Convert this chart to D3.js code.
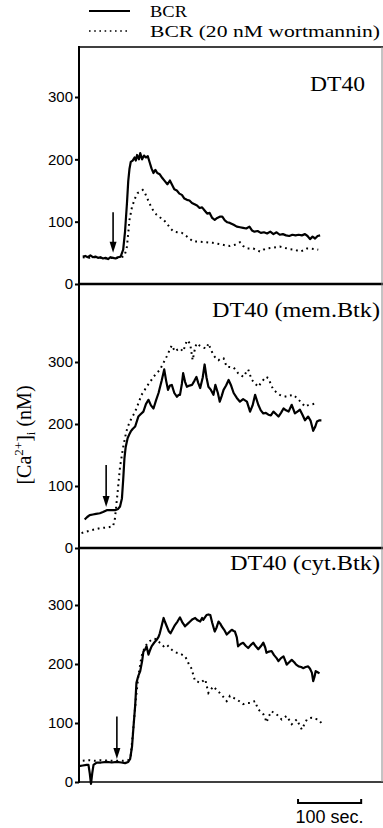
<!DOCTYPE html>
<html>
<head>
<meta charset="utf-8">
<script src="https://cdn.jsdelivr.net/npm/d3@7"></script>
<style>
  body { margin: 0; background: #fff; }
  svg { display: block; }
</style>
</head>
<body>
<div id="chart"></div>
<script>
// ---- data: [time (s), [Ca2+]i (nM)] ----
const legendLabels = ['BCR', 'BCR (20 nM wortmannin)'];
const panelNames = ['DT40', 'DT40 (mem.Btk)', 'DT40 (cyt.Btk)'];
const yTicks = [0, 100, 200, 300];
const stimulusTimes = [54, 43, 60];
const arrowTops = [115, 134, 111];
const arrowTips = [50, 66, 39];
const scaleBarSeconds = 100;

const bcrDT40 = [[6,44],[10,45],[14,43],[18,46],[22,43],[26,44],[30,42],[34,43],[38,41],[42,42],[46,40],[50,43],[54,42],[58,41],[62,43],[66,44],[70,55],[73,85],[76,130],[78,165],[80,185],[82,196],[85,198],[88,203],[90,198],[92,207],[95,200],[97,210],[100,200],[103,206],[106,203],[109,205],[112,195],[115,185],[118,178],[121,183],[124,178],[128,176],[132,170],[136,165],[140,160],[144,166],[147,160],[151,152],[155,150],[159,145],[163,143],[167,137],[171,135],[175,134],[179,130],[183,128],[187,126],[191,122],[195,123],[199,118],[203,113],[207,114],[211,106],[215,103],[219,106],[223,108],[227,108],[231,102],[235,99],[239,98],[245,95],[250,92],[255,91],[260,90],[265,89],[270,92],[274,86],[278,84],[283,85],[288,82],[293,83],[298,81],[303,84],[308,80],[313,83],[318,79],[323,80],[328,78],[333,77],[338,79],[343,78],[348,79],[353,78],[358,80],[362,77],[366,72],[370,76],[374,73],[378,77],[382,78]];
const wortDT40 = [[6,43],[15,42],[25,43],[35,42],[45,41],[55,42],[65,42],[72,45],[76,60],[80,103],[84,124],[89,138],[93,146],[97,148],[101,151],[104,147],[107,140],[111,131],[115,122],[119,116],[123,111],[128,107],[134,103],[140,96],[145,89],[150,84],[156,83],[163,82],[170,77],[176,72],[181,68],[190,68],[202,67],[212,66],[223,64],[232,62],[239,61],[247,63],[255,67],[260,61],[266,57],[276,57],[282,54],[287,52],[292,55],[297,57],[305,58],[312,59],[318,60],[326,58],[334,56],[342,55],[350,52],[356,54],[361,57],[367,57],[374,56],[379,55]];

const bcrMem = [[9,46],[13,50],[17,53],[22,54],[27,55],[33,56],[38,58],[44,61],[50,61],[57,61],[62,63],[65,67],[68,80],[70,110],[72,145],[74,163],[77,177],[80,184],[82,188],[85,192],[89,196],[94,212],[98,216],[102,220],[106,232],[110,239],[114,230],[118,225],[122,238],[126,250],[131,270],[135,288],[138,270],[141,255],[144,262],[147,263],[151,250],[155,244],[158,247],[160,247],[163,265],[165,282],[168,268],[171,260],[175,262],[179,263],[183,270],[186,276],[189,266],[192,258],[196,275],[199,296],[202,275],[205,260],[209,255],[213,247],[216,263],[220,250],[223,236],[226,245],[229,255],[233,262],[237,271],[241,262],[245,250],[250,242],[255,236],[260,240],[266,236],[271,220],[275,230],[279,247],[284,231],[288,222],[292,217],[296,218],[300,215],[304,214],[308,220],[312,216],[316,212],[320,218],[324,225],[328,222],[332,220],[337,231],[342,217],[346,220],[350,223],[354,215],[358,206],[363,212],[367,205],[371,189],[374,195],[377,204],[381,206],[384,206]];
const wortMem = [[4,24],[10,26],[17,28],[25,30],[33,32],[44,33],[54,35],[57,48],[61,88],[65,131],[70,163],[75,188],[79,200],[83,209],[87,216],[91,225],[95,236],[99,247],[103,253],[107,260],[112,267],[118,276],[123,282],[128,287],[133,297],[139,309],[143,318],[147,327],[152,317],[156,320],[160,322],[165,317],[171,335],[176,330],[180,303],[183,318],[186,330],[190,327],[194,325],[198,323],[202,322],[205,330],[209,320],[213,311],[217,306],[221,303],[225,306],[229,306],[234,292],[239,292],[245,291],[249,286],[252,282],[256,280],[260,276],[264,282],[268,288],[271,279],[274,271],[279,265],[284,260],[288,266],[292,271],[296,276],[300,274],[304,264],[308,255],[313,251],[318,247],[324,245],[329,244],[334,246],[340,247],[344,243],[348,239],[353,234],[358,228],[362,230],[366,231],[370,232],[374,233]];

const bcrCyt = [[0,27],[6,28],[12,29],[15,29],[17,15],[19,-3],[21,15],[23,29],[28,33],[35,33],[44,34],[52,33],[60,34],[67,33],[73,32],[78,34],[81,39],[84,60],[86,89],[89,130],[91,168],[94,180],[97,188],[100,205],[102,221],[105,225],[107,230],[110,216],[112,222],[115,230],[119,236],[123,241],[126,246],[128,252],[131,265],[134,278],[136,272],[139,264],[142,256],[145,252],[148,258],[152,266],[156,272],[160,279],[164,270],[168,264],[172,268],[176,272],[180,276],[184,278],[188,274],[192,272],[195,278],[197,275],[200,280],[202,283],[205,284],[208,283],[211,270],[215,255],[218,262],[221,272],[224,268],[226,264],[230,258],[234,250],[238,254],[242,258],[245,256],[247,255],[250,245],[252,230],[256,234],[260,236],[264,231],[268,227],[272,232],[276,236],[280,230],[284,225],[288,230],[292,236],[295,228],[297,219],[301,221],[305,222],[309,215],[313,210],[316,205],[320,210],[324,213],[327,205],[329,199],[333,203],[337,207],[341,203],[344,199],[348,196],[352,195],[355,193],[359,195],[363,196],[366,192],[369,185],[371,171],[373,178],[375,188],[378,186],[381,184]];
const wortCyt = [[6,36],[15,37],[25,36],[35,37],[49,36],[60,36],[70,36],[78,37],[82,45],[86,90],[90,140],[94,179],[99,213],[103,225],[107,233],[111,238],[115,241],[119,243],[123,242],[128,236],[131,233],[134,230],[137,232],[139,233],[143,228],[147,224],[151,221],[155,219],[159,218],[163,216],[168,213],[171,207],[173,202],[176,196],[179,191],[181,181],[184,171],[188,170],[192,168],[196,171],[200,174],[203,160],[205,151],[209,157],[213,162],[218,156],[223,151],[228,145],[234,137],[237,141],[239,146],[244,143],[250,140],[255,136],[260,132],[266,134],[271,134],[275,136],[279,137],[282,128],[284,123],[288,119],[292,115],[295,108],[297,101],[301,112],[305,120],[309,117],[313,115],[317,110],[321,106],[325,109],[329,112],[333,105],[337,98],[341,102],[345,106],[349,97],[353,89],[357,98],[361,106],[365,108],[369,109],[374,107],[379,106],[384,100]];

// ---- layout ----
const width = 383, height = 828;
const axisX = 79, rightX = 382;
const serif = '"Liberation Serif", "Times New Roman", serif';
const sans = '"Liberation Sans", Arial, Helvetica, sans-serif';

const svg = d3.select('#chart').append('svg')
  .attr('width', width)
  .attr('height', height);

const x = d3.scaleLinear().domain([0, 480]).range([axisX, rightX]);

const panels = [
  { name: panelNames[0], bcr: bcrDT40, wort: wortDT40, top: 47, bottom: 284, y300: 97, labelX: 310, labelW: 55, labelY: 91 },
  { name: panelNames[1], bcr: bcrMem, wort: wortMem, top: 284, bottom: 548, y300: 362, labelX: 212, labelW: 168, labelY: 317 },
  { name: panelNames[2], bcr: bcrCyt, wort: wortCyt, top: 548, bottom: 782, y300: 605, labelX: 230, labelW: 150, labelY: 570 }
];

// legend
const legend = svg.append('g').attr('class', 'legend');
const legendW = [37, 230];
legendLabels.forEach((lbl, i) => {
  const ly = 11 + i * 20;
  legend.append('line')
    .attr('x1', 89).attr('x2', 130).attr('y1', ly).attr('y2', ly)
    .attr('stroke', '#000').attr('stroke-width', i === 0 ? 2 : 1.6)
    .attr('stroke-dasharray', i === 0 ? null : '1.6,3.6');
  legend.append('text')
    .attr('x', 150).attr('y', ly + 6)
    .attr('font-family', serif).attr('font-size', 17)
    .attr('textLength', legendW[i]).attr('lengthAdjust', 'spacingAndGlyphs')
    .text(lbl);
});

panels.forEach((p, i) => {
  const y = d3.scaleLinear().domain([0, 300]).range([p.bottom, p.y300]);
  const g = svg.append('g').attr('class', 'panel');

  const line = d3.line()
    .x(d => x(d[0]))
    .y(d => y(d[1]));

  g.append('path')
    .datum(p.wort)
    .attr('fill', 'none')
    .attr('stroke', '#000')
    .attr('stroke-width', 2)
    .attr('stroke-dasharray', '1.8,3.8')
    .attr('d', line);

  g.append('path')
    .datum(p.bcr)
    .attr('fill', 'none')
    .attr('stroke', '#000')
    .attr('stroke-width', 2.2)
    .attr('stroke-linejoin', 'round')
    .attr('d', line);

  // stimulus arrow
  const ax = x(stimulusTimes[i]);
  const tipY = y(arrowTips[i]);
  g.append('line')
    .attr('x1', ax).attr('x2', ax)
    .attr('y1', y(arrowTops[i])).attr('y2', tipY - 8)
    .attr('stroke', '#000').attr('stroke-width', 1.6);
  g.append('path')
    .attr('d', `M${ax - 3.5},${tipY - 11}L${ax + 3.5},${tipY - 11}L${ax},${tipY}Z`)
    .attr('fill', '#000');

  // y axis ticks
  const yAxis = g.append('g')
    .attr('transform', 'translate(' + axisX + ',0)')
    .call(d3.axisLeft(y).tickValues(yTicks).tickSize(4).tickPadding(2).tickSizeOuter(0));
  yAxis.select('.domain').remove();
  yAxis.selectAll('.tick line').attr('stroke-width', 2);
  yAxis.selectAll('text')
    .attr('font-family', sans)
    .attr('font-size', 15)
    .attr('fill', '#000');

  // panel label
  g.append('text')
    .attr('x', p.labelX).attr('y', p.labelY)
    .attr('font-family', serif).attr('font-size', 22)
    .attr('textLength', p.labelW).attr('lengthAdjust', 'spacingAndGlyphs')
    .text(p.name);

  // bottom edge of the panel
  svg.append('line')
    .attr('x1', axisX).attr('x2', width).attr('y1', p.bottom).attr('y2', p.bottom)
    .attr('stroke', '#000').attr('stroke-width', i < 2 ? 2.6 : 1.6);
});

// frame: top edge, left axis line, light right edge
svg.append('line')
  .attr('x1', axisX).attr('x2', width).attr('y1', 47).attr('y2', 47)
  .attr('stroke', '#000').attr('stroke-width', 1.6);
svg.append('line')
  .attr('x1', axisX).attr('x2', axisX).attr('y1', 46).attr('y2', 783)
  .attr('stroke', '#000').attr('stroke-width', 2);
svg.append('line')
  .attr('x1', rightX).attr('x2', rightX).attr('y1', 47).attr('y2', 782)
  .attr('stroke', '#888').attr('stroke-width', 1);

// y title
const title = svg.append('text')
  .attr('transform', 'translate(31,435) rotate(-90)')
  .attr('text-anchor', 'middle')
  .attr('font-family', serif)
  .attr('font-size', 20);
title.append('tspan').text('[Ca');
title.append('tspan').attr('font-size', 13).attr('dy', -8).text('2+');
title.append('tspan').attr('dy', 8).text(']');
title.append('tspan').attr('font-size', 13).attr('dy', 4).text('i');
title.append('tspan').attr('dy', -4).text(' (nM)');

// scale bar
const sb0 = 347;
const sbX0 = x(sb0), sbX1 = x(sb0 + scaleBarSeconds);
svg.append('path')
  .attr('d', `M${sbX0},799V803H${sbX1}V799`)
  .attr('fill', 'none').attr('stroke', '#000').attr('stroke-width', 2);
svg.append('text')
  .attr('x', (sbX0 + sbX1) / 2).attr('y', 823)
  .attr('text-anchor', 'middle')
  .attr('font-family', sans).attr('font-size', 18)
  .text(scaleBarSeconds + ' sec.');
</script>
</body>
</html>
